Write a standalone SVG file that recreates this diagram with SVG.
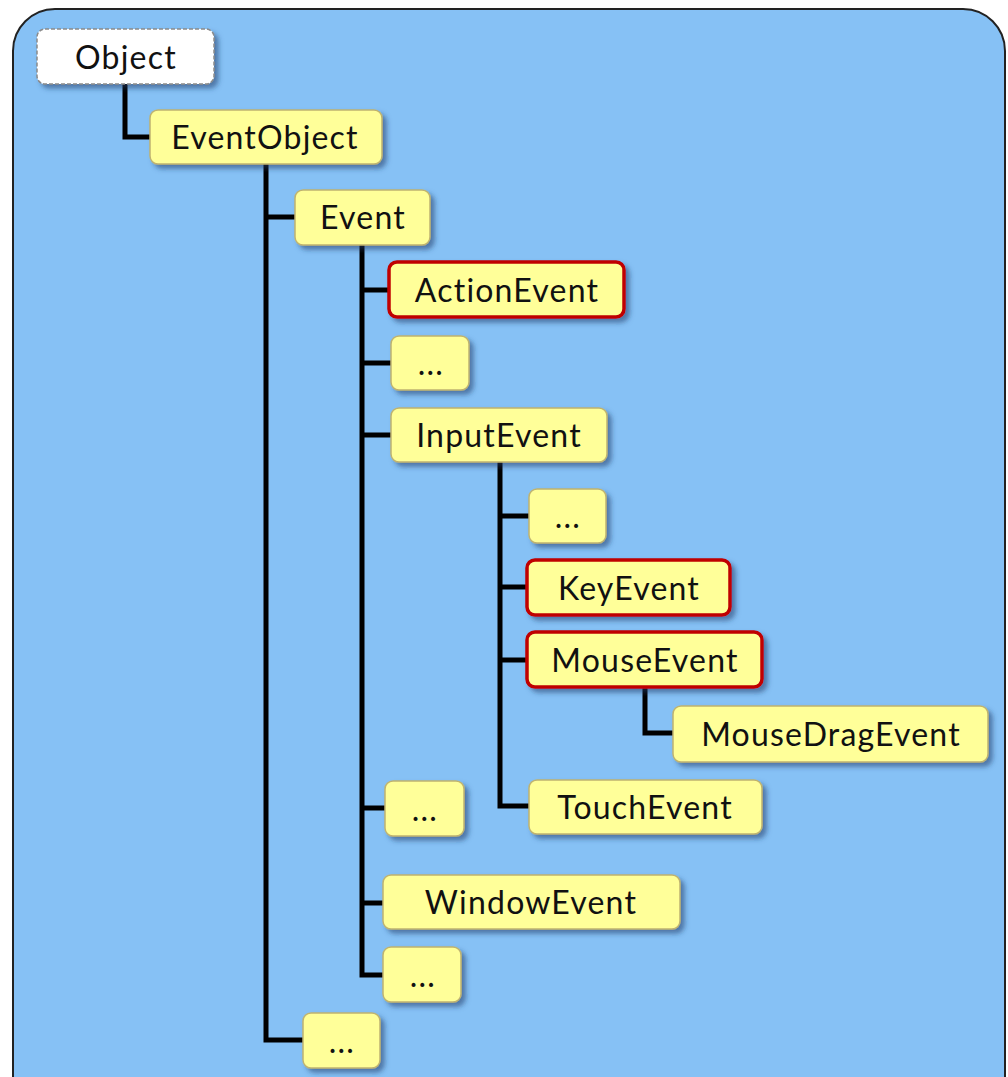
<svg xmlns="http://www.w3.org/2000/svg" width="1008" height="1077" viewBox="0 0 1008 1077">
  <defs>
    <filter id="shadow" x="-10%" y="-20%" width="130%" height="160%">
      <feDropShadow dx="4" dy="4" stdDeviation="2.5" flood-color="#1a3a66" flood-opacity="0.55"/>
    </filter>
    <style>
      .box { fill: #FFFF99; stroke: #BFB370; stroke-width: 1.5; filter: url(#shadow); }
      .hot { fill: #FFFF99; stroke: #C00000; stroke-width: 3.5; filter: url(#shadow); }
      .root { fill: #FFFFFF; stroke: #8A8A8A; stroke-width: 1.5; stroke-dasharray: 4 2; filter: url(#shadow); }
      .lbl { font-family: "Lato", "Open Sans", sans-serif; font-size: 32px; letter-spacing: 1.2px; fill: #111111; text-anchor: middle; dominant-baseline: central; }
      .wire { fill: none; stroke: #000000; stroke-width: 5; stroke-linejoin: miter; }
    </style>
  </defs>

  <!-- panel -->
  <rect x="13" y="9" width="992" height="1110" rx="42" ry="42" fill="#86C1F5" stroke="#222222" stroke-width="2"/>

  <!-- connectors -->
  <g id="connectors">
    <path class="wire" d="M125 84 V137 H152"/>
    <path class="wire" d="M266 164 V1040 H305 M266 217 H297"/>
    <path class="wire" d="M362 245 V975 H385 M362 290 H391 M362 363 H393 M362 435 H393 M362 808 H387 M362 903 H385"/>
    <path class="wire" d="M500 462 V806 H531 M500 516 H531 M500 587 H529 M500 660 H529"/>
    <path class="wire" d="M645 687 V733 H675"/>
  </g>

  <g id="n-object">
    <rect class="root" x="37" y="29" width="177" height="55" rx="8"/>
    <text class="lbl" x="126" y="56">Object</text>
  </g>
  <g id="n-eventobject">
    <rect class="box" x="150" y="110" width="232" height="54" rx="8"/>
    <text class="lbl" x="265" y="136">EventObject</text>
  </g>
  <g id="n-event">
    <rect class="box" x="295" y="190" width="135" height="55" rx="8"/>
    <text class="lbl" x="363" y="216">Event</text>
  </g>
  <g id="n-actionevent">
    <rect class="hot" x="389" y="262" width="235" height="55" rx="8"/>
    <text class="lbl" x="507" y="289">ActionEvent</text>
  </g>
  <g id="n-more1">
    <rect class="box" x="391" y="336" width="78" height="54" rx="8"/>
    <text class="lbl" x="431" y="362">...</text>
  </g>
  <g id="n-inputevent">
    <rect class="box" x="391" y="408" width="216" height="54" rx="8"/>
    <text class="lbl" x="499" y="434">InputEvent</text>
  </g>
  <g id="n-more2">
    <rect class="box" x="529" y="489" width="77" height="54" rx="8"/>
    <text class="lbl" x="568" y="515">...</text>
  </g>
  <g id="n-keyevent">
    <rect class="hot" x="527" y="560" width="203" height="55" rx="8"/>
    <text class="lbl" x="629" y="587">KeyEvent</text>
  </g>
  <g id="n-mouseevent">
    <rect class="hot" x="527" y="632" width="235" height="55" rx="8"/>
    <text class="lbl" x="645" y="659">MouseEvent</text>
  </g>
  <g id="n-mousedragevent">
    <rect class="box" x="673" y="706" width="315" height="56" rx="8"/>
    <text class="lbl" x="831" y="733">MouseDragEvent</text>
  </g>
  <g id="n-touchevent">
    <rect class="box" x="529" y="780" width="233" height="54" rx="8"/>
    <text class="lbl" x="645" y="806">TouchEvent</text>
  </g>
  <g id="n-more3">
    <rect class="box" x="385" y="781" width="79" height="55" rx="8"/>
    <text class="lbl" x="425" y="808">...</text>
  </g>
  <g id="n-windowevent">
    <rect class="box" x="383" y="875" width="297" height="54" rx="8"/>
    <text class="lbl" x="531" y="901">WindowEvent</text>
  </g>
  <g id="n-more4">
    <rect class="box" x="383" y="947" width="78" height="55" rx="8"/>
    <text class="lbl" x="423" y="974">...</text>
  </g>
  <g id="n-more5">
    <rect class="box" x="303" y="1013" width="77" height="55" rx="8"/>
    <text class="lbl" x="342" y="1040">...</text>
  </g>
</svg>
